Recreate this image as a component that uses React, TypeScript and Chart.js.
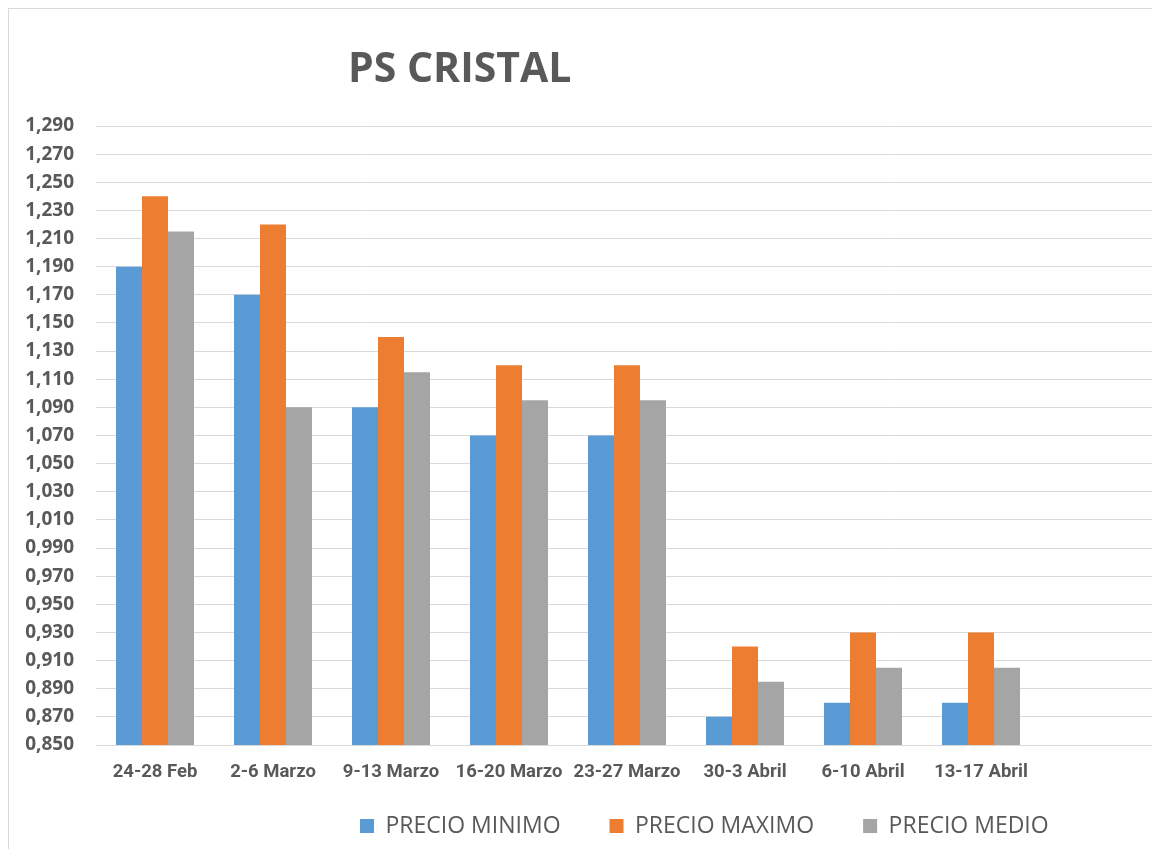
import React, { useEffect, useRef } from "react";
import { Chart, registerables } from "chart.js";

Chart.register(...registerables);

const CATEGORIES = [
  "24-28 Feb",
  "2-6 Marzo",
  "9-13 Marzo",
  "16-20 Marzo",
  "23-27 Marzo",
  "30-3 Abril",
  "6-10 Abril",
  "13-17 Abril",
  "",
];
const PRECIO_MINIMO = [1.19, 1.17, 1.09, 1.07, 1.07, 0.87, 0.88, 0.88, null];
const PRECIO_MAXIMO = [1.24, 1.22, 1.14, 1.12, 1.12, 0.92, 0.93, 0.93, null];
const PRECIO_MEDIO = [1.215, 1.09, 1.115, 1.095, 1.095, 0.895, 0.905, 0.905, null];
const SERIES_NAMES = ["PRECIO MINIMO", "PRECIO MAXIMO", "PRECIO MEDIO"];
const SERIES_COLORS = ["#5B9BD5", "#ED7D31", "#A5A5A5"];
const Y_MIN = 0.85;
const Y_MAX = 1.29;
const Y_STEP = 0.02;
const TITLE = "PS CRISTAL";

const TEXT_COLOR = "#595959";
const GRID_COLOR = "#D9D9D9";
const LEGEND_FONT_SIZE = 23;
const LEGEND_PADDING = 49;
const LEGEND_LEFT = 351;
const LEGEND_CENTER_Y = 817;
const TITLE_LEFT = 339;

const placePlugin = {
  id: "placeBoxes",
  afterLayout(chart: any) {
    const lg = chart.legend;
    if (lg && lg.lineWidths) {
      const pad = LEGEND_PADDING;
      const curCenter = lg.top + pad + Math.max(LEGEND_FONT_SIZE, 14) / 2;
      const dy = LEGEND_CENTER_Y - curCenter;
      lg.top += dy;
      lg.bottom += dy;
      const cursorX = (lg.left + pad + lg.right - lg.lineWidths[0]) / 2;
      const dx = LEGEND_LEFT - cursorX;
      lg.left += dx;
      lg.right += dx;
    }
    const t = chart.titleBlock;
    if (t) {
      t.left = TITLE_LEFT;
    }
  },
};

export default function App() {
  const canvasRef = useRef<HTMLCanvasElement | null>(null);

  useEffect(() => {
    const canvas = canvasRef.current;
    if (!canvas) return;
    const datasets = [PRECIO_MINIMO, PRECIO_MAXIMO, PRECIO_MEDIO].map((d, i) => ({
      label: SERIES_NAMES[i],
      data: d,
      backgroundColor: SERIES_COLORS[i],
      borderWidth: 0,
      categoryPercentage: 0.661,
      barPercentage: 1.0,
    }));
    const chart = new Chart(canvas, {
      type: "bar",
      data: { labels: CATEGORIES, datasets },
      plugins: [placePlugin],
      options: {
        responsive: false,
        animation: false,
        layout: { padding: { top: 0, left: 0, right: 51, bottom: 12 } },
        plugins: {
          title: {
            display: true,
            text: TITLE,
            align: "start",
            color: TEXT_COLOR,
            font: { family: '"Open Sans", sans-serif', size: 41, weight: "bold" },
            padding: { top: 36.4, bottom: 31.4 },
          },
          legend: {
            display: true,
            position: "bottom",
            labels: {
              boxWidth: 14,
              boxHeight: 14,
              padding: LEGEND_PADDING,
              color: TEXT_COLOR,
              font: { family: '"Open Sans", sans-serif', size: LEGEND_FONT_SIZE },
            },
          },
          tooltip: { enabled: false },
        },
        scales: {
          x: {
            grid: { display: false, drawTicks: false },
            border: { display: false },
            ticks: {
              color: TEXT_COLOR,
              padding: 16,
              maxRotation: 0,
              autoSkip: false,
              font: {
                family: 'Roboto, sans-serif',
                size: 18.5,
                weight: "bold",
              },
            },
            afterFit: (s: any) => {
              s.height = 40;
            },
          },
          y: {
            min: Y_MIN,
            max: Y_MAX,
            grid: { color: GRID_COLOR, lineWidth: 1, drawTicks: false },
            border: { display: false },
            ticks: {
              stepSize: Y_STEP,
              autoSkip: false,
              color: TEXT_COLOR,
              padding: 22,
              font: { family: '"Open Sans", sans-serif', size: 19, weight: "bold" },
              callback: (v: any) => Number(v).toFixed(3).replace(".", ","),
            },
            afterFit: (s: any) => {
              s.width = 87;
            },
          },
        },
      },
    });
    return () => chart.destroy();
  }, []);

  return (
    <div style={{ width: 1152, height: 841, overflow: "hidden" }}>
      <div
        style={{
          width: 1200,
          height: 870,
          border: "1px solid #D9D9D9",
          background: "#fff",
        }}
      >
        <canvas ref={canvasRef} width={1200} height={870} style={{ display: "block" }} />
      </div>
    </div>
  );
}
